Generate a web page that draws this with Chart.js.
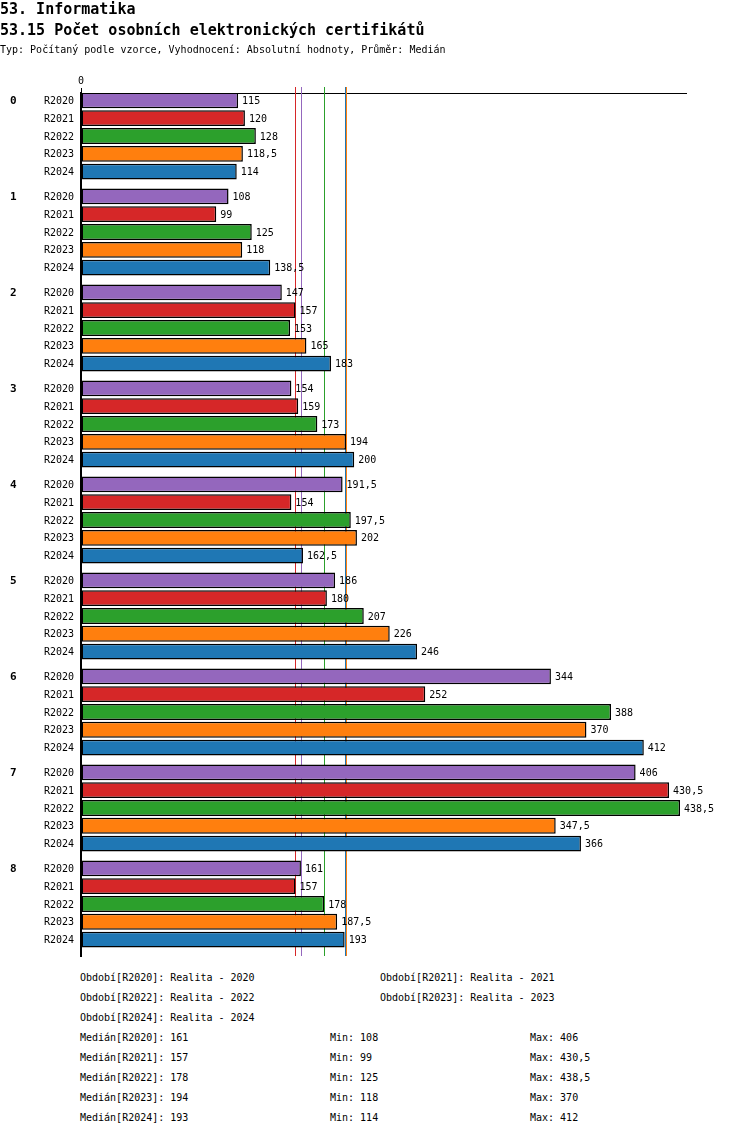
<!DOCTYPE html>
<html lang="cs">
<head>
<meta charset="utf-8">
<title>53.15 Počet osobních elektronických certifikátů</title>
<script src="https://cdn.jsdelivr.net/npm/chart.js@4/dist/chart.umd.min.js"></script>
<style>
  body { margin: 0; background: #fff; color: #000; font-family: "DejaVu Sans Mono", monospace; }
  #page { position: relative; width: 750px; height: 1136px; overflow: hidden; }
  #chartBox { position: absolute; left: 0; top: 0; width: 750px; height: 966px; }
  .t { position: absolute; white-space: pre; line-height: 12px; font-size: 10px; }
  .h { font-size: 15px; font-weight: bold; line-height: 18px; left: 0; }
</style>
</head>
<body>
<div id="page">
  <div id="chartBox"><canvas id="chart"></canvas></div>
  <div class="t h" style="top:0">53. Informatika</div>
  <div class="t h" style="top:21px">53.15 Počet osobních elektronických certifikátů</div>
  <div class="t" style="top:44px; left:0">Typ: Počítaný podle vzorce, Vyhodnocení: Absolutní hodnoty, Průměr: Medián</div>
  <div id="legend"></div>
</div>
<script>
// Data
const groups = ['0', '1', '2', '3', '4', '5', '6', '7', '8'];
const periods = ['R2020', 'R2021', 'R2022', 'R2023', 'R2024'];
const periodNames = ['Realita - 2020', 'Realita - 2021', 'Realita - 2022', 'Realita - 2023', 'Realita - 2024'];

const r2020 = [115, 108, 147, 154, 191.5, 186, 344, 406, 161];
const r2021 = [120, 99, 157, 159, 154, 180, 252, 430.5, 157];
const r2022 = [128, 125, 153, 173, 197.5, 207, 388, 438.5, 178];
const r2023 = [118.5, 118, 165, 194, 202, 226, 370, 347.5, 187.5];
const r2024 = [114, 138.5, 183, 200, 162.5, 246, 412, 366, 193];

const series = [r2020, r2021, r2022, r2023, r2024];
const colors = ['#9467bd', '#d62728', '#2ca02c', '#ff7f0e', '#1f77b4'];
const FONT = '"DejaVu Sans Mono", monospace';

function fmt(v) {
  return String(v).replace('.', ',');
}

function median(arr) {
  const s = arr.slice().sort((a, b) => a - b);
  const m = Math.floor(s.length / 2);
  return s.length % 2 ? s[m] : (s[m - 1] + s[m]) / 2;
}

const medians = series.map(median);
const mins = series.map(a => Math.min(...a));
const maxs = series.map(a => Math.max(...a));
const xMax = Math.max(...maxs) * 1.01;

// Median lines behind the bars
const medianLines = {
  id: 'medianLines',
  beforeDatasetsDraw(chart) {
    const { ctx, chartArea, scales } = chart;
    ctx.save();
    ctx.lineWidth = 1;
    medians.forEach((m, i) => {
      const x = Math.round(scales.x.getPixelForValue(m)) + 0.5;
      ctx.strokeStyle = colors[i];
      ctx.beginPath();
      ctx.moveTo(x, chartArea.top - 6);
      ctx.lineTo(x, chartArea.bottom);
      ctx.stroke();
    });
    ctx.restore();
  }
};

// Value labels, period labels and group labels
const barLabels = {
  id: 'barLabels',
  afterDatasetsDraw(chart) {
    const { ctx, chartArea } = chart;
    ctx.save();
    ctx.textBaseline = 'middle';
    ctx.fillStyle = '#000';
    chart.data.datasets.forEach((ds, di) => {
      const meta = chart.getDatasetMeta(di);
      meta.data.forEach((bar, gi) => {
        ctx.font = '10px ' + FONT;
        ctx.textAlign = 'left';
        ctx.fillText(fmt(series[di][gi]), bar.x + 4, bar.y + 1);
        ctx.textAlign = 'right';
        ctx.fillText(periods[di], chartArea.left - 7, bar.y + 1);
        if (di === 0) {
          ctx.font = 'bold 11px ' + FONT;
          ctx.textAlign = 'left';
          ctx.fillText(groups[gi], 10, bar.y + 1);
        }
      });
    });
    ctx.restore();
  }
};

const ctx = document.getElementById('chart').getContext('2d');
const chart = new Chart(ctx, {
  type: 'bar',
  data: {
    datasets: periods.map((p, i) => ({
      label: p,
      data: series[i].map((v, g) => ({ x: v, y: g })),
      backgroundColor: colors[i],
      borderColor: '#000',
      borderWidth: 1.5,
      borderSkipped: false,
      categoryPercentage: 0.9375,
      barPercentage: 0.89
    }))
  },
  options: {
    indexAxis: 'y',
    responsive: true,
    maintainAspectRatio: false,
    animation: false,
    devicePixelRatio: 1,
    layout: { padding: { left: 81, right: 64, top: 75, bottom: 10 } },
    plugins: {
      legend: { display: false },
      tooltip: { enabled: false }
    },
    scales: {
      x: {
        type: 'linear',
        position: 'top',
        min: 0,
        max: xMax,
        grid: { display: true, drawOnChartArea: false, drawTicks: true, tickLength: 5, color: '#000' },
        border: { display: true, color: '#000', width: 1 },
        ticks: { color: '#000', padding: 1, font: { family: FONT, size: 10 } },
        afterBuildTicks(scale) {
          scale.ticks = scale.ticks.filter(t => t.value === 0);
        },
        afterFit(scale) {
          scale.height = 18;
        }
      },
      y: {
        type: 'linear',
        reverse: true,
        offset: false,
        bounds: 'data',
        min: -0.448,
        max: 8.542,
        ticks: { display: false, stepSize: 1, includeBounds: false },
        grid: { display: false, drawTicks: false },
        border: { display: true, color: '#000', width: 2 }
      }
    }
  },
  plugins: [medianLines, barLabels]
});

// Text legend under the chart
const legend = document.getElementById('legend');
function addText(text, x, yc) {
  const d = document.createElement('div');
  d.className = 't';
  d.style.left = x + 'px';
  d.style.top = (yc - 6) + 'px';
  d.textContent = text;
  legend.appendChild(d);
}
periods.forEach((p, i) => {
  addText('Období[' + p + ']: ' + periodNames[i], i % 2 ? 380 : 80, 978 + 20 * Math.floor(i / 2));
});
periods.forEach((p, i) => {
  const y = 1038 + 20 * i;
  addText('Medián[' + p + ']: ' + fmt(medians[i]), 80, y);
  addText('Min: ' + fmt(mins[i]), 330, y);
  addText('Max: ' + fmt(maxs[i]), 530, y);
});
</script>
</body>
</html>
